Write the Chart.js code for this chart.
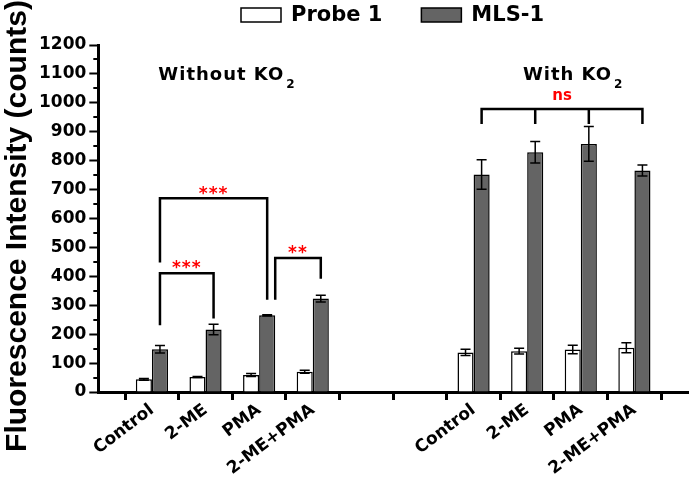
<!DOCTYPE html>
<html>
<head>
<meta charset="utf-8">
<script src="https://cdn.jsdelivr.net/npm/chart.js@4.4.1/dist/chart.umd.min.js"></script>
<style>
  html, body { margin: 0; padding: 0; background: #fff; }
  canvas { display: block; }
</style>
</head>
<body>
<canvas id="chart" width="693" height="479"></canvas>
<script>
// values
const categories = ['Control', '2-ME', 'PMA', '2-ME+PMA'];
const probeWithout = [44, 52, 59, 70];
const probeWithoutErr = [3, 2, 5, 5];
const mlsWithout = [148, 216, 265, 323];
const mlsWithoutErr = [13, 18, 2, 12];
const probeWith = [137, 141, 147, 153];
const probeWithErr = [11, 10, 15, 17];
const mlsWith = [752, 829, 858, 766];
const mlsWithErr = [51, 37, 60, 19];

// one empty slot before, two between and one after the groups
const slots = (a, b) => [null, ...a, null, null, ...b, null];
const labels = slots(categories, categories).map(v => v === null ? '' : v);

const errors = [slots(probeWithoutErr, probeWithErr), slots(mlsWithoutErr, mlsWithErr)];

// significance brackets, x = category slot, y in counts
const brackets = [
  { slots: [1, 3], legs: [448, 319], top: 670, text: '***', textY: 700 },
  { slots: [1, 2], legs: [231, 254], top: 411, text: '***', textY: 443 },
  { slots: [3, 4], legs: [319, 392], top: 463, text: '**', textY: 496, shift: [0.5, 0] },
  { slots: [7, 8, 9, 10], legs: [927, 927, 927, 927], top: 979, text: 'ns', textY: 1022 }
];

const groupTitles = [
  { text: 'Without KO', sub: '2', slot: 1.12, y: 1080 },
  { text: 'With KO', sub: '2', slot: 7.92, y: 1080 }
];

const yTitle = 'Fluorescence Intensity (counts)';
const FONT = '"DejaVu Sans", sans-serif';
const TITLE_FONT = 'bold 30px "Liberation Sans", Arial, sans-serif';

const errorBars = {
  id: 'errorBars',
  afterDatasetsDraw(chart) {
    const ctx = chart.ctx;
    const y = chart.scales.y;
    ctx.save();
    ctx.strokeStyle = '#000';
    ctx.lineWidth = 1.5;
    chart.data.datasets.forEach((ds, d) => {
      const meta = chart.getDatasetMeta(d);
      ds.data.forEach((v, i) => {
        if (v === null) return;
        const e = errors[d][i];
        const x = meta.data[i].x;
        const y1 = y.getPixelForValue(v + e), y2 = y.getPixelForValue(v - e);
        ctx.beginPath();
        ctx.moveTo(x, y1); ctx.lineTo(x, y2);
        ctx.moveTo(x - 5, y1); ctx.lineTo(x + 5, y1);
        ctx.moveTo(x - 5, y2); ctx.lineTo(x + 5, y2);
        ctx.stroke();
      });
    });
    ctx.restore();
  }
};

const extras = {
  id: 'extras',
  afterDraw(chart) {
    const ctx = chart.ctx;
    const xs = chart.scales.x, ys = chart.scales.y;
    const mls = chart.getDatasetMeta(1);
    ctx.save();

    // y title, drawn here so it can sit a little below the axis centre
    ctx.save();
    ctx.translate(ys.left + 18, 226);
    ctx.rotate(-Math.PI / 2);
    ctx.font = TITLE_FONT;
    ctx.fillStyle = '#000';
    ctx.textAlign = 'center';
    ctx.textBaseline = 'middle';
    ctx.fillText(yTitle, 0, 0);
    ctx.restore();

    // minor ticks on y
    ctx.strokeStyle = '#000';
    ctx.lineWidth = 2;
    for (let v = 50; v < 1200; v += 100) {
      const py = Math.round(ys.getPixelForValue(v));
      ctx.beginPath();
      ctx.moveTo(ys.right - 5, py); ctx.lineTo(ys.right, py);
      ctx.stroke();
    }

    // brackets
    brackets.forEach(b => {
      const px = b.slots.map((s, k) => {
        const bar = mls.data[s];
        return bar.x + (b.shift ? b.shift[k] || 0 : 0) * bar.width;
      });
      const top = ys.getPixelForValue(b.top);
      ctx.strokeStyle = '#000';
      ctx.lineWidth = 2.5;
      ctx.beginPath();
      ctx.moveTo(px[0], ys.getPixelForValue(b.legs[0]));
      ctx.lineTo(px[0], top);
      ctx.lineTo(px[px.length - 1], top);
      ctx.lineTo(px[px.length - 1], ys.getPixelForValue(b.legs[px.length - 1]));
      for (let k = 1; k < px.length - 1; k++) {
        ctx.moveTo(px[k], top);
        ctx.lineTo(px[k], ys.getPixelForValue(b.legs[k]));
      }
      ctx.stroke();
      ctx.fillStyle = '#ff0000';
      ctx.textAlign = 'center';
      ctx.textBaseline = 'middle';
      if (b.text === 'ns') {
        ctx.font = 'bold 15px ' + FONT;
        ctx.fillText(b.text, (px[0] + px[px.length - 1]) / 2, ys.getPixelForValue(b.textY));
      } else {
        ctx.font = 'bold 17px ' + FONT;
        ctx.letterSpacing = '1px';
        ctx.fillText(b.text, (px[0] + px[px.length - 1]) / 2, ys.getPixelForValue(b.textY) + 5);
        ctx.letterSpacing = '0px';
      }
    });

    // group titles
    ctx.fillStyle = '#000';
    ctx.textAlign = 'left';
    ctx.textBaseline = 'alphabetic';
    groupTitles.forEach(g => {
      const gx = xs.getPixelForValue(g.slot);
      const gy = ys.getPixelForValue(g.y);
      ctx.font = 'bold 18px ' + FONT;
      ctx.letterSpacing = '1px';
      ctx.fillText(g.text, gx, gy);
      const w = ctx.measureText(g.text).width;
      ctx.font = 'bold 12px ' + FONT;
      ctx.fillText(g.sub, gx + w + 2, gy + 8);
      ctx.letterSpacing = '0px';
    });

    // legend
    let lx = 241;
    chart.data.datasets.forEach(ds => {
      ctx.fillStyle = ds.backgroundColor;
      ctx.fillRect(lx, 8, 40, 14);
      ctx.strokeStyle = '#000';
      ctx.lineWidth = 1.5;
      ctx.strokeRect(lx, 8, 40, 14);
      ctx.fillStyle = '#000';
      ctx.font = 'bold 21px ' + FONT;
      ctx.textBaseline = 'middle';
      ctx.fillText(ds.label, lx + 50, 16);
      lx += 50 + ctx.measureText(ds.label).width + 39;
    });
    ctx.restore();
  }
};

new Chart(document.getElementById('chart'), {
  type: 'bar',
  data: {
    labels: labels,
    datasets: [
      {
        label: 'Probe 1',
        data: slots(probeWithout, probeWith),
        backgroundColor: '#ffffff',
        borderColor: '#000',
        borderWidth: 1.5
      },
      {
        label: 'MLS-1',
        data: slots(mlsWithout, mlsWith),
        backgroundColor: '#646464',
        borderColor: '#000',
        borderWidth: 1.5
      }
    ]
  },
  options: {
    responsive: false,
    animation: false,
    devicePixelRatio: 1,
    categoryPercentage: 0.6,
    barPercentage: 1.0,
    layout: { padding: { top: 45, right: 5, left: 0, bottom: 0 } },
    plugins: {
      legend: { display: false },
      tooltip: { enabled: false }
    },
    scales: {
      x: {
        offset: false,
        grid: { drawOnChartArea: false, drawTicks: true, tickLength: 8, tickWidth: 3, tickColor: '#000' },
        border: { color: '#000', width: 3 },
        ticks: {
          autoSkip: false,
          maxRotation: 37,
          minRotation: 37,
          padding: 0,
          color: '#000',
          // empty slots get a tiny font so they do not pad the axis ends
          font: c => ({ family: FONT, weight: 'bold', size: labels[c.index] ? 17 : 1 })
        }
      },
      y: {
        min: 0,
        max: 1200,
        grid: { drawOnChartArea: false, drawTicks: true, tickLength: 9, tickWidth: 2, tickColor: '#000' },
        border: { color: '#000', width: 3 },
        ticks: {
          stepSize: 100,
          padding: 3,
          color: '#000',
          font: { family: FONT, weight: 'bold', size: 17 },
          callback: v => String(v)
        },
        title: {
          display: true,
          text: yTitle,
          color: 'rgba(0,0,0,0)',
          padding: { top: 0, bottom: 0 },
          font: { family: '"Liberation Sans", Arial, sans-serif', weight: 'bold', size: 30, lineHeight: 1.2 }
        }
      }
    }
  },
  plugins: [errorBars, extras]
});
</script>
</body>
</html>
